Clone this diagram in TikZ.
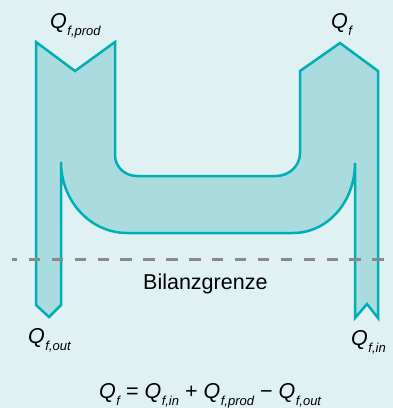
\documentclass[tikz,border=0pt]{standalone}
\usepackage{fontspec}
\setmainfont{Liberation Sans}
\usepackage{xcolor}
\definecolor{bgcyan}{RGB}{224,241,243}
\definecolor{flowfill}{RGB}{170,219,223}
\definecolor{flowline}{RGB}{0,174,182}
\definecolor{limitgray}{RGB}{138,138,138}
\usetikzlibrary{positioning}
\newcommand{\qflow}[1]{\textit{Q}\kern0.5pt\raisebox{-7pt}{\fontsize{13}{13}\selectfont\itshape #1}}

\begin{document}
\begin{tikzpicture}[x=1pt, y=-1pt,
  flowbody/.style={fill=flowfill, draw=flowline, line width=2.5pt},
  limitline/.style={draw=limitgray, line width=3pt, dash pattern=on 11.4pt off 11.5pt, dash phase=6.1pt},
  qlabel/.style={font=\fontsize{21.5}{25}\selectfont, inner sep=0pt, anchor=base west}]
  % background
  \fill[bgcyan] (0,0) rectangle (393,408);
  \useasboundingbox (0,0) rectangle (393,408);

  %--- Flow body ---
  \path[flowbody] (36,42) -- (75,71) -- (115,42) -- (115,155)
    .. controls (115,167) and (125,176) .. (137,176) -- (276,176)
    .. controls (289,176) and (300,166) .. (300,153) -- (300,71)
    -- (340,43) -- (378,71) -- (378,318) -- (367,304) -- (355,318)
    -- (355,163) .. controls (355,201.6) and (327.8,233) .. (293,233)
    -- (127,233) .. controls (90.6,233) and (61,201.2) .. (61,162)
    -- (61,305) -- (49,317) -- (36,305) -- cycle;

  % Balance boundary
  \coordinate (limitL) at (12,259);
  \coordinate (limitR) at (385,259);
  \draw[limitline] (limitL) -- (limitR);
  \node[qlabel] (limit) at (143,289) {Bilanzgrenze};

  % Flow labels
  \node[qlabel] (qprod) at (50,28) {\qflow{f,prod}};
  \node[qlabel] (qf) at (331,28) {\qflow{f}};
  \node[qlabel] (qout) at (28,343) {\qflow{f,out}};
  \node[qlabel] (qin) at (351,345) {\qflow{f,in}};

  % Balance equation
  \node[qlabel] (balance) at (99,398) {\qflow{f} = \qflow{f,in} + \qflow{f,prod} − \qflow{f,out}};
\end{tikzpicture}
\end{document}
